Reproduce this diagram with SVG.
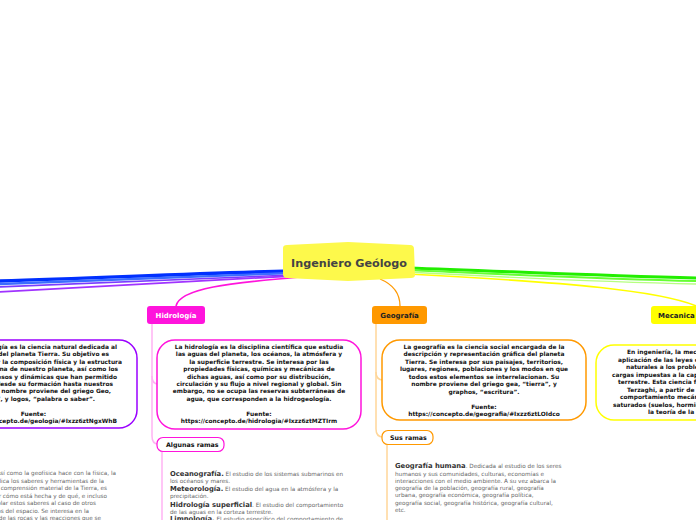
<svg xmlns="http://www.w3.org/2000/svg" width="696" height="520" viewBox="0 0 696 520">
<style>
.b{font-family:"DejaVu Sans",Verdana,sans-serif;font-weight:bold;font-size:5.9px;fill:#111}
.c{text-anchor:middle}
.e{text-anchor:end}
.lbl{font-family:"DejaVu Sans",Verdana,sans-serif;font-weight:bold;font-size:7px}
.t{font-family:"DejaVu Sans",Verdana,sans-serif;font-size:5.7px;fill:#666}
.tb{font-weight:bold;font-size:6.8px;fill:#333}
.desc{fill:#fff;stroke-width:1.5}
.sub{fill:#fff;stroke-width:1.2}
.conn{fill:none}
</style>
<g id="connectors" class="conn">
  <path d="M292,271 C200,273 100,278 -2,281" stroke="#0030ff" stroke-width="3.4"/>
  <path d="M292,273 C200,276 100,280 -2,284" stroke="#3b6cff" stroke-width="2.4"/>
  <path d="M292,275 C200,279 100,283 -2,287" stroke="#7a3cff" stroke-width="1.6"/>
  <path d="M292,276 C200,281 100,287 -2,292" stroke="#a033ff" stroke-width="1.8"/>
  <path d="M300,277 C230,283 180,288 176,306" stroke="#ff14dc" stroke-width="1.6"/>
  <path d="M380,279 C392,284 400,292 400,306" stroke="#ff9900" stroke-width="1.3"/>
  <path d="M408,268 C500,271 600,276 698,278" stroke="#22ee00" stroke-width="3"/>
  <path d="M408,270 C500,274 600,279 698,281" stroke="#66ff33" stroke-width="2"/>
  <path d="M408,272 C500,277 600,282 698,284" stroke="#b6ff80" stroke-width="1.4"/>
  <path d="M408,274 C560,282 670,290 705,310" stroke="#ffff00" stroke-width="1.6"/>
  <path d="M152,324 V376 Q152,384 158,384" stroke="#ffb3f3" stroke-width="1.5"/>
  <path d="M152,376 V436 Q152,444 158,444" stroke="#ffb3f3" stroke-width="1.5"/>
  <path d="M162,451 V520" stroke="#ffb3f3" stroke-width="1.5"/>
  <path d="M376,324 V372 Q376,380 383,380" stroke="#ffd699" stroke-width="1.5"/>
  <path d="M376,372 V429 Q376,437 383,437" stroke="#ffd699" stroke-width="1.5"/>
  <path d="M387,444 V520" stroke="#ffd699" stroke-width="1.5"/>
</g>
<g id="center">
  <path d="M283,248 Q283,245 287,245 L348,242 L410,245 Q414,245 414,249 L415,275 Q415,278 411,278 L348,281 L287,278 Q283,278 283,274 Z" fill="#fdf94b"/>
  <text x="349" y="267" class="lbl c" style="font-size:11.2px;fill:#444">Ingeniero Geólogo</text>
</g>
<g id="hidrologia">
  <rect x="147" y="306" width="58" height="18" rx="3" fill="#ff14dc"/>
  <text x="176" y="317.5" class="lbl c" fill="#fff">Hidrología</text>
</g>
<g id="geografia">
  <rect x="372" y="306" width="55" height="18" rx="3" fill="#ff9900"/>
  <text x="399.5" y="317.5" class="lbl c" fill="#222">Geografía</text>
</g>
<g id="mecanica">
  <rect x="651" y="306" width="60" height="18" rx="3" fill="#ffff00"/>
  <text x="658" y="317.5" class="lbl" fill="#222">Mecanica</text>
</g>
<g id="geologia-desc">
  <rect x="-68" y="340" width="205" height="88" rx="18" class="desc" stroke="#9a00ff"/>
  <text class="b e"><tspan x="117" y="349">La geología es la ciencia natural dedicada al</tspan><tspan x="109" y="356.4">estudio del planeta Tierra. Su objetivo es</tspan><tspan x="122" y="363.8">comprender la composición física y la estructura</tspan><tspan x="118" y="371.2">interna de nuestro planeta, así como los</tspan><tspan x="117" y="378.6">procesos y dinámicas que han permitido</tspan><tspan x="113" y="386">su evolución desde su formación hasta nuestros</tspan><tspan x="111" y="393.4">días. Su nombre proviene del griego Geo,</tspan><tspan x="95" y="400.8">“tierra”, y logos, “palabra o saber”.</tspan><tspan x="46" y="415.6">Fuente:</tspan><tspan x="117" y="423">https://concepto.de/geologia/#Ixzz6ztNgxWhB</tspan></text>
</g>
<g id="hidrologia-desc">
  <rect x="157" y="340" width="204" height="89" rx="18" class="desc" stroke="#ff14dc"/>
  <text class="b c"><tspan x="259" y="349">La hidrología es la disciplina científica que estudia</tspan><tspan x="259" y="356.4">las aguas del planeta, los océanos, la atmósfera y</tspan><tspan x="259" y="363.8">la superficie terrestre. Se interesa por las</tspan><tspan x="259" y="371.2">propiedades físicas, químicas y mecánicas de</tspan><tspan x="259" y="378.6">dichas aguas, así como por su distribución,</tspan><tspan x="259" y="386">circulación y su flujo a nivel regional y global. Sin</tspan><tspan x="259" y="393.4">embargo, no se ocupa las reservas subterráneas de</tspan><tspan x="259" y="400.8">agua, que corresponden a la hidrogeología.</tspan><tspan x="259" y="415.6">Fuente:</tspan><tspan x="259" y="423">https://concepto.de/hidrologia/#Ixzz6ztMZTIrm</tspan></text>
</g>
<g id="geografia-desc">
  <rect x="382" y="340" width="204" height="80" rx="18" class="desc" stroke="#ff9900"/>
  <text class="b c"><tspan x="484" y="349">La geografía es la ciencia social encargada de la</tspan><tspan x="484" y="356.4">descripción y representación gráfica del planeta</tspan><tspan x="484" y="363.9">Tierra. Se interesa por sus paisajes, territorios,</tspan><tspan x="484" y="371.3">lugares, regiones, poblaciones y los modos en que</tspan><tspan x="484" y="378.8">todos estos elementos se interrelacionan. Su</tspan><tspan x="484" y="386.2">nombre proviene del griego gea, “tierra”, y</tspan><tspan x="484" y="393.6">graphos, “escritura”.</tspan><tspan x="484" y="408.5">Fuente:</tspan><tspan x="484" y="416">https://concepto.de/geografia/#Ixzz6ztLOIdco</tspan></text>
</g>
<g id="mecanica-desc">
  <rect x="596" y="345" width="204" height="75" rx="18" class="desc" stroke="#ffff00"/>
  <text class="b"><tspan x="627" y="354">En ingeniería, la mecánica de suelos es la</tspan><tspan x="618" y="361.5">aplicación de las leyes de la física y las ciencias</tspan><tspan x="626" y="369">naturales a los problemas que involucran las</tspan><tspan x="612" y="376.5">cargas impuestas a la capa superficial de la corteza</tspan><tspan x="618" y="384">terrestre. Esta ciencia fue fundada por Karl von</tspan><tspan x="627" y="391.5">Terzaghi, a partir de 1925. Su aporte al</tspan><tspan x="620" y="399">comportamiento mecánico de los medios porosos</tspan><tspan x="613" y="406.5">saturados (suelos, hormigón, rocas) se plasmó en</tspan><tspan x="648" y="414">la teoría de la consolidación.</tspan></text>
</g>
<g id="algunas-ramas">
  <rect x="157" y="437.5" width="67" height="14" rx="6" class="sub" stroke="#ff14dc"/>
  <text x="166" y="447" class="lbl" style="font-size:6.3px" fill="#111">Algunas ramas</text>
</g>
<g id="sus-ramas">
  <rect x="382" y="430.5" width="51" height="14" rx="6" class="sub" stroke="#ff9900"/>
  <text x="390" y="440" class="lbl" style="font-size:6.3px" fill="#111">Sus ramas</text>
</g>
<g id="geologia-ramas-text">
  <text class="t e"><tspan x="116" y="474.7">Así como la geofísica hace con la física, la</tspan><tspan x="104" y="482.7">geoquímica aplica los saberes y herramientas de la</tspan><tspan x="107" y="490.3">química a la comprensión material de la Tierra, es</tspan><tspan x="107" y="498">decir, a entender cómo está hecha y de qué, e incluso</tspan><tspan x="96" y="505.3">puede extrapolar estos saberes al caso de otros</tspan><tspan x="89" y="512.7">cuerpos del espacio. Se interesa en la</tspan><tspan x="101" y="520.3">composición de las rocas y las reacciones que se</tspan></text>
</g>
<g id="hidrologia-ramas-text">
  <text class="t"><tspan x="170" y="476" class="tb">Oceanografía.</tspan><tspan> El estudio de los sistemas submarinos en</tspan><tspan x="170" y="483">los océanos y mares.</tspan><tspan x="170" y="491" class="tb">Meteorología.</tspan><tspan> El estudio del agua en la atmósfera y la</tspan><tspan x="170" y="498">precipitación.</tspan><tspan x="170" y="506.5" class="tb">Hidrología superficial</tspan><tspan>. El estudio del comportamiento</tspan><tspan x="170" y="513.5">de las aguas en la corteza terrestre.</tspan><tspan x="170" y="521" class="tb">Limnología.</tspan><tspan> El estudio específico del comportamiento de</tspan></text>
</g>
<g id="geografia-ramas-text">
  <text class="t"><tspan x="395" y="468" class="tb">Geografía humana</tspan><tspan>. Dedicada al estudio de los seres</tspan><tspan x="395" y="476">humanos y sus comunidades, culturas, economías e</tspan><tspan x="395" y="483">interacciones con el medio ambiente. A su vez abarca la</tspan><tspan x="395" y="490.3">geografía de la población, geografía rural, geografía</tspan><tspan x="395" y="497.3">urbana, geografía económica, geografía política,</tspan><tspan x="395" y="504.7">geografía social, geografía histórica, geografía cultural,</tspan><tspan x="395" y="512.3">etc.</tspan></text>
</g>
</svg>
